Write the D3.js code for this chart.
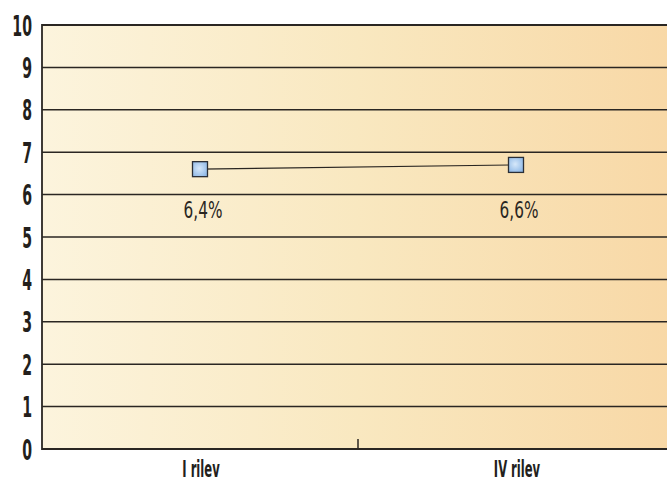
<!DOCTYPE html>
<html><head><meta charset="utf-8">
<script src="https://cdn.jsdelivr.net/npm/d3@7"></script>
<style>body{margin:0;background:#fff}svg{display:block}</style>
</head><body>
<svg id="c" width="667" height="481"></svg>
<script>
const categories = ["I rilev", "IV rilev"];
const values = [6.6, 6.7];
const valueLabels = ["6,4%", "6,6%"];
const yTicks = [0,1,2,3,4,5,6,7,8,9,10];

const FONT = "'DejaVu Sans Condensed', 'DejaVu Sans', sans-serif";
const svg = d3.select("#c");
const m = {l:42, t:25, b:449, r:674};
const x = d3.scaleBand().domain(categories).range([m.l, m.r]);
const y = d3.scaleLinear().domain([0,10]).range([m.b, m.t]);

const defs = svg.append("defs");
const bg = defs.append("linearGradient").attr("id","bg");
bg.append("stop").attr("offset","0%").attr("stop-color","#fcf4dd");
bg.append("stop").attr("offset","50%").attr("stop-color","#f9e8c0");
bg.append("stop").attr("offset","100%").attr("stop-color","#f8d8a6");
const mk = defs.append("radialGradient").attr("id","mk").attr("cx","45%").attr("cy","45%").attr("r","65%");
mk.append("stop").attr("offset","0%").attr("stop-color","#d6e8fa");
mk.append("stop").attr("offset","100%").attr("stop-color","#8db7e6");

svg.append("rect").attr("x",m.l).attr("y",m.t).attr("width",m.r-m.l).attr("height",m.b-m.t).attr("fill","url(#bg)");

// gridlines
svg.append("g").selectAll("line").data(yTicks).join("line")
  .attr("x1",m.l).attr("x2",667).attr("y1",d=>y(d)).attr("y2",d=>y(d))
  .attr("stroke","#2a2622").attr("stroke-width",d=>(d===0||d===10)?2.2:1.5);

// left axis line
svg.append("line").attr("x1",m.l).attr("x2",m.l).attr("y1",m.t-1).attr("y2",m.b+1).attr("stroke","#2a2622").attr("stroke-width",1.8);

// y tick labels (condensed)
svg.append("g").selectAll("text").data(yTicks).join("text")
  .attr("transform",d=>`translate(${m.l-10},${y(d)+10.5}) scale(0.56,1)`)
  .attr("text-anchor","end").attr("font-family",FONT).attr("font-weight","bold")
  .attr("font-size","28px").attr("fill","#231f1c").text(d=>d);

// x axis: middle tick between bands
svg.append("line").attr("x1",x(categories[1])).attr("x2",x(categories[1]))
  .attr("y1",m.b-10).attr("y2",m.b).attr("stroke","#2a2622").attr("stroke-width",1.5);

svg.append("g").selectAll("text").data(categories).join("text")
  .attr("transform",d=>`translate(${x(d)+x.bandwidth()/2+1},${m.b+28}) scale(0.56,1)`)
  .attr("text-anchor","middle").attr("font-family",FONT).attr("font-weight","bold")
  .attr("font-size","23px").attr("fill","#231f1c").text(d=>d);

// line
const pts = categories.map((c,i)=>({c, v:values[i], l:valueLabels[i]}));
const line = d3.line().x(d=>x(d.c)+x.bandwidth()/2).y(d=>y(d.v));
svg.append("path").datum(pts).attr("d",line).attr("fill","none").attr("stroke","#2a2622").attr("stroke-width",1.2);

svg.append("g").selectAll("rect").data(pts).join("rect")
  .attr("x",d=>x(d.c)+x.bandwidth()/2-7.5).attr("y",d=>y(d.v)-7.5)
  .attr("width",15).attr("height",15).attr("fill","url(#mk)").attr("stroke","#2b2f36").attr("stroke-width",1.3);

const labelY = y(d3.min(values)) + 49;
svg.append("g").selectAll("text").data(pts).join("text")
  .attr("transform",d=>`translate(${x(d.c)+x.bandwidth()/2+3},${labelY}) scale(0.74,1)`)
  .attr("text-anchor","middle").attr("font-family",FONT)
  .attr("font-size","23px").attr("fill","#2a2622").text(d=>d.l);
</script>
</body></html>
